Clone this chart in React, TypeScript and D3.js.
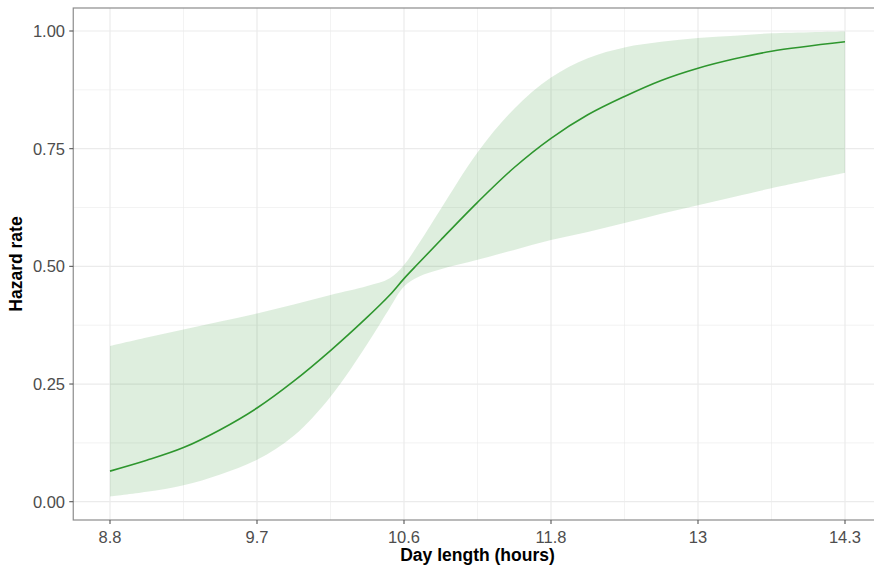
import React from "react";
import * as d3 from "d3";

// x positions are in axis steps (0..5) matching the equally spaced tick labels
const xTickLabels = ["8.8", "9.7", "10.6", "11.8", "13", "14.3"];
const yTicks = [0, 0.25, 0.5, 0.75, 1];

const xStep = [0, 0.25, 0.5, 0.75, 1, 1.25, 1.5, 1.75, 1.9, 2, 2.1, 2.25, 2.5, 2.75, 3, 3.25, 3.5, 3.75, 4, 4.25, 4.5, 5];
const meanRate = [0.065, 0.088, 0.115, 0.153, 0.199, 0.256, 0.321, 0.392, 0.438, 0.474, 0.507, 0.556, 0.636, 0.71, 0.772, 0.822, 0.861, 0.895, 0.921, 0.941, 0.957, 0.977];
const lowerRate = [0.011, 0.021, 0.035, 0.058, 0.089, 0.14, 0.223, 0.335, 0.41, 0.457, 0.478, 0.494, 0.514, 0.535, 0.556, 0.573, 0.592, 0.612, 0.63, 0.648, 0.666, 0.699];
const upperRate = [0.331, 0.349, 0.366, 0.383, 0.4, 0.419, 0.439, 0.458, 0.474, 0.503, 0.548, 0.622, 0.742, 0.835, 0.901, 0.942, 0.965, 0.977, 0.985, 0.99, 0.995, 0.999];

const W = 874;
const H = 574;

export default function App() {
  const x = d3.scaleLinear().domain([0, 5]).range([110, 845]);
  const y = d3.scaleLinear().domain([0, 1]).range([501.7, 31]);
  const panelLeft = x(-0.25);
  const panelRight = x(5.25);
  const panelTop = 8;
  const panelBottom = 520;

  const pts = xStep.map((s, i) => ({ s, m: meanRate[i], lo: lowerRate[i], hi: upperRate[i] }));
  const area = d3
    .area<any>()
    .x((d) => x(d.s))
    .y0((d) => y(d.lo))
    .y1((d) => y(d.hi))
    .curve(d3.curveCatmullRom.alpha(0.5));
  const line = d3
    .line<any>()
    .x((d) => x(d.s))
    .y((d) => y(d.m))
    .curve(d3.curveCatmullRom.alpha(0.5));

  const majorX = xTickLabels.map((_, i) => i);
  const minorX = [0.5, 1.5, 2.5, 3.5, 4.5];
  const minorY = [0.125, 0.375, 0.625, 0.875];
  const font = "Liberation Sans, Arial, sans-serif";

  return (
    <svg width={W} height={H} style={{ position: "absolute", left: 0, top: 0, background: "#fff" }}>
      <rect x={0} y={0} width={W} height={H} fill="#ffffff" />
      {/* grid */}
      {minorX.map((v) => (
        <line key={"mx" + v} x1={x(v)} x2={x(v)} y1={panelTop} y2={panelBottom} stroke="#ebebeb" strokeWidth={0.6} />
      ))}
      {minorY.map((v) => (
        <line key={"my" + v} x1={panelLeft} x2={panelRight} y1={y(v)} y2={y(v)} stroke="#ebebeb" strokeWidth={0.6} />
      ))}
      {majorX.map((v) => (
        <line key={"Mx" + v} x1={x(v)} x2={x(v)} y1={panelTop} y2={panelBottom} stroke="#ebebeb" strokeWidth={1.2} />
      ))}
      {yTicks.map((v) => (
        <line key={"My" + v} x1={panelLeft} x2={panelRight} y1={y(v)} y2={y(v)} stroke="#ebebeb" strokeWidth={1.2} />
      ))}
      {/* ribbon and line */}
      <path d={area(pts) || ""} fill="#228B22" fillOpacity={0.15} />
      <path d={line(pts) || ""} fill="none" stroke="#2e962e" strokeWidth={1.6} />
      {/* panel border */}
      <rect
        x={panelLeft}
        y={panelTop}
        width={panelRight - panelLeft}
        height={panelBottom - panelTop}
        fill="none"
        stroke="#8c8c8c"
        strokeWidth={1.2}
      />
      {/* x ticks */}
      {majorX.map((v, i) => (
        <g key={"xt" + i}>
          <line x1={x(v)} x2={x(v)} y1={panelBottom} y2={panelBottom + 4} stroke="#555" strokeWidth={1.1} />
          <text x={x(v)} y={543} textAnchor="middle" fontFamily={font} fontSize={16.5} fill="#4d4d4d">
            {xTickLabels[i]}
          </text>
        </g>
      ))}
      {/* y ticks */}
      {yTicks.map((v) => (
        <g key={"yt" + v}>
          <line x1={panelLeft - 4} x2={panelLeft} y1={y(v)} y2={y(v)} stroke="#555" strokeWidth={1.1} />
          <text x={65} y={y(v)} dy="0.36em" textAnchor="end" fontFamily={font} fontSize={16.5} fill="#4d4d4d">
            {d3.format(".2f")(v)}
          </text>
        </g>
      ))}
      {/* axis titles */}
      <text x={(panelLeft + panelRight) / 2} y={561} textAnchor="middle" fontFamily={font} fontSize={17.5} fontWeight="bold" fill="#000">
        Day length (hours)
      </text>
      <text
        transform={`translate(22, ${(panelTop + panelBottom) / 2}) rotate(-90)`}
        textAnchor="middle"
        fontFamily={font}
        fontSize={17.5}
        fontWeight="bold"
        fill="#000"
      >
        Hazard rate
      </text>
    </svg>
  );
}
